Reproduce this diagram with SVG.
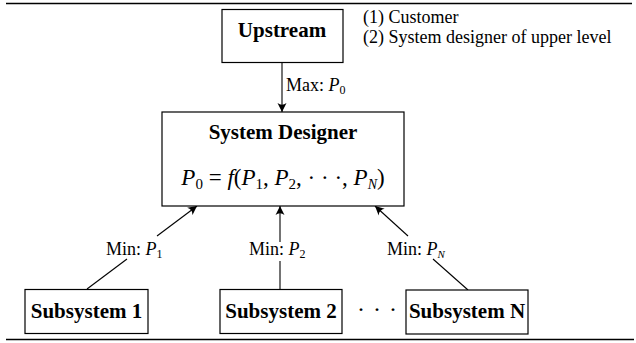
<svg xmlns="http://www.w3.org/2000/svg" width="636" height="343" viewBox="0 0 636 343">
<style>
.box{fill:#fff;stroke:#000;stroke-width:1.2}
.bold{font-family:"Liberation Serif",serif;font-weight:bold;font-size:21px;fill:#000}
.cm{font-family:"Liberation Serif",serif;font-size:18px;fill:#000}
.it{font-style:italic}
.edge{stroke:#000;stroke-width:1.1;fill:none}
.rule{stroke:#000;stroke-width:1.5}
</style>
<defs>
<marker id="arr" viewBox="-10 -6 12 12" markerWidth="12" markerHeight="12" refX="0" refY="0" orient="auto" markerUnits="userSpaceOnUse">
<path d="M0,0 L-9,-4.5 Q-5.5,0 -9,4.5 Z" fill="#000"/>
</marker>
</defs>
<line class="rule" x1="6" y1="3.5" x2="632" y2="3.5"/>
<line class="rule" x1="6" y1="339.5" x2="634" y2="339.5"/>

<g id="connectors">
<line class="edge" x1="282" y1="63" x2="282" y2="112" marker-end="url(#arr)"/>
<line class="edge" x1="87" y1="289" x2="127" y2="259"/>
<line class="edge" x1="157" y1="236" x2="197" y2="206" marker-end="url(#arr)"/>
<line class="edge" x1="280" y1="289" x2="280" y2="261"/>
<line class="edge" x1="280" y1="242" x2="280" y2="206" marker-end="url(#arr)"/>
<line class="edge" x1="468" y1="290" x2="433" y2="259"/>
<line class="edge" x1="408" y1="236" x2="375" y2="206" marker-end="url(#arr)"/>
<text class="cm" x="286" y="91">Max: <tspan class="it">P</tspan><tspan font-size="12" dy="3">0</tspan></text>
<text class="cm" x="106" y="255">Min: <tspan class="it">P</tspan><tspan font-size="12" dy="3">1</tspan></text>
<text class="cm" x="249" y="255">Min: <tspan class="it">P</tspan><tspan font-size="12" dy="3">2</tspan></text>
<text class="cm" x="387" y="255">Min: <tspan class="it">P</tspan><tspan font-size="11" dy="3" class="it">N</tspan></text>
</g>

<g id="upstream">
<rect class="box" x="222" y="9.5" width="121" height="53"/>
<text class="bold" x="282" y="37" text-anchor="middle">Upstream</text>
</g>
<g id="upstream-notes">
<text class="cm" x="363" y="23">(1) Customer</text>
<text class="cm" x="363" y="43">(2) System designer of upper level</text>
</g>

<g id="system-designer">
<rect class="box" x="162" y="112" width="242" height="94"/>
<text class="bold" x="283" y="139" text-anchor="middle">System Designer</text>
<text x="283" y="185" text-anchor="middle" font-family="Liberation Serif,serif" font-size="23"><tspan class="it">P</tspan><tspan font-size="15" dy="4">0</tspan><tspan dy="-4"> = </tspan><tspan class="it">f</tspan>(<tspan class="it">P</tspan><tspan font-size="15" dy="4">1</tspan><tspan dy="-4">, </tspan><tspan class="it">P</tspan><tspan font-size="15" dy="4">2</tspan><tspan dy="-4">, · · ·, </tspan><tspan class="it">P</tspan><tspan font-size="14" dy="4" class="it">N</tspan><tspan dy="-4">)</tspan></text>
</g>

<g id="subsystem-1">
<rect class="box" x="25" y="289.5" width="123" height="44"/>
<text class="bold" x="86.5" y="318" text-anchor="middle">Subsystem 1</text>
</g>
<g id="subsystem-2">
<rect class="box" x="220" y="289.5" width="122" height="44"/>
<text class="bold" x="281" y="318" text-anchor="middle">Subsystem 2</text>
</g>
<g id="dots">
<text x="361 377 393" y="317" text-anchor="middle" font-family="Liberation Serif,serif" font-size="24">···</text>
</g>
<g id="subsystem-n">
<rect class="box" x="406" y="290" width="122" height="44"/>
<text class="bold" x="467" y="318" text-anchor="middle">Subsystem N</text>
</g>
</svg>
